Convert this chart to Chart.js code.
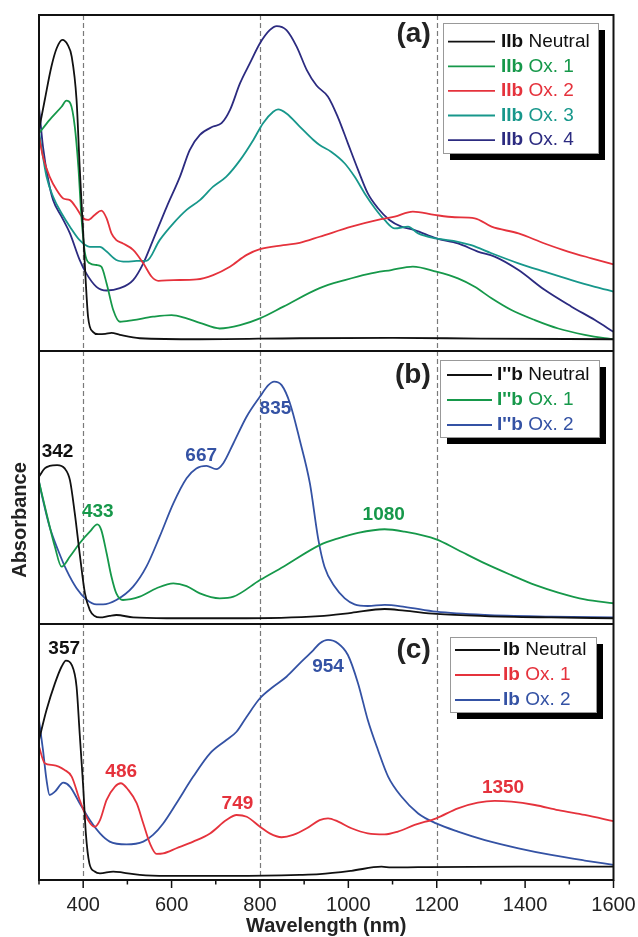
<!DOCTYPE html>
<html>
<head>
<meta charset="utf-8">
<script src="https://cdn.jsdelivr.net/npm/chart.js@4.4.1/dist/chart.umd.min.js"></script>
<style>
    html, body { margin: 0; padding: 0; background: #fff; }
    #wrap { width: 638px; height: 937px; }
</style>
</head>
<body>
<div id="wrap"><canvas id="uvvis" width="638" height="937"></canvas></div>
<script>
// ---- data (wavelength nm, absorbance a.u. per panel) ----

// (a) IIb
const iibNeutral = [[300,0.658],[313,0.747],[328,0.846],[340,0.901],[353,0.926],[365,0.911],[374,0.876],[385,0.747],[392,0.549],[400,0.35],[406,0.201],[411,0.102],[422,0.057],[434,0.050],[450,0.051],[464,0.054],[483,0.048],[528,0.038],[664,0.035],[890,0.038],[1100,0.039],[1300,0.037],[1600,0.035]];
const iibOx1 = [[300,0.648],[324,0.688],[351,0.727],[362,0.745],[371,0.737],[381,0.668],[389,0.549],[396,0.400],[404,0.291],[415,0.261],[430,0.256],[441,0.251],[453,0.201],[468,0.122],[483,0.087],[513,0.092],[558,0.102],[600,0.107],[634,0.097],[664,0.084],[709,0.067],[755,0.077],[800,0.097],[853,0.132],[935,0.187],[992,0.211],[1044,0.229],[1097,0.241],[1146,0.251],[1199,0.236],[1248,0.216],[1286,0.191],[1324,0.157],[1369,0.122],[1422,0.092],[1475,0.067],[1535,0.048],[1580,0.038],[1600,0.035]];
const iibOx2 = [[300,0.638],[309,0.578],[324,0.519],[340,0.479],[355,0.454],[370,0.449],[385,0.425],[400,0.395],[411,0.390],[426,0.405],[441,0.418],[453,0.395],[464,0.350],[475,0.330],[490,0.320],[513,0.301],[536,0.261],[555,0.221],[570,0.209],[604,0.211],[657,0.213],[694,0.226],[732,0.251],[770,0.286],[800,0.303],[853,0.315],[890,0.322],[935,0.340],[1007,0.370],[1067,0.390],[1105,0.400],[1146,0.415],[1195,0.405],[1241,0.398],[1286,0.395],[1324,0.370],[1385,0.350],[1444,0.320],[1497,0.296],[1550,0.276],[1600,0.258]];
const iibOx3 = [[300,0.653],[317,0.519],[332,0.459],[351,0.410],[370,0.370],[392,0.330],[415,0.310],[438,0.310],[453,0.296],[475,0.271],[498,0.266],[521,0.268],[543,0.268],[573,0.330],[604,0.380],[634,0.420],[664,0.449],[694,0.489],[724,0.519],[755,0.568],[785,0.628],[807,0.678],[830,0.712],[841,0.719],[860,0.707],[890,0.668],[921,0.628],[935,0.613],[961,0.593],[992,0.558],[1014,0.519],[1037,0.469],[1060,0.425],[1082,0.390],[1105,0.365],[1135,0.370],[1158,0.350],[1199,0.335],[1248,0.325],[1278,0.315],[1324,0.291],[1385,0.261],[1444,0.236],[1505,0.211],[1558,0.191],[1600,0.177]];
const iibOx4 = [[300,0.727],[309,0.608],[321,0.509],[332,0.449],[351,0.400],[370,0.350],[392,0.271],[407,0.231],[430,0.191],[453,0.180],[483,0.187],[513,0.211],[536,0.261],[558,0.330],[589,0.429],[619,0.519],[641,0.598],[664,0.643],[694,0.668],[713,0.678],[732,0.717],[755,0.797],[777,0.856],[800,0.916],[822,0.955],[838,0.967],[860,0.955],[883,0.906],[906,0.836],[928,0.790],[954,0.757],[976,0.697],[999,0.618],[1022,0.539],[1044,0.469],[1067,0.425],[1093,0.390],[1120,0.370],[1150,0.360],[1199,0.335],[1248,0.320],[1293,0.296],[1331,0.281],[1385,0.241],[1444,0.182],[1505,0.132],[1558,0.092],[1600,0.057]];

// (b) I''b
const ipbNeutral = [[300,0.540],[313,0.570],[324,0.579],[341,0.582],[358,0.570],[370,0.527],[381,0.405],[392,0.259],[404,0.112],[415,0.051],[426,0.029],[438,0.024],[460,0.030],[475,0.033],[513,0.024],[589,0.021],[740,0.021],[935,0.029],[1007,0.041],[1082,0.055],[1127,0.049],[1199,0.037],[1309,0.029],[1459,0.024],[1600,0.021]];
const ipbOx1 = [[300,0.521],[317,0.405],[336,0.283],[351,0.210],[370,0.247],[392,0.296],[415,0.338],[432,0.365],[441,0.344],[453,0.259],[464,0.173],[475,0.112],[490,0.088],[528,0.100],[566,0.131],[604,0.149],[634,0.139],[664,0.112],[709,0.094],[740,0.100],[800,0.161],[853,0.210],[935,0.289],[977,0.314],[1022,0.334],[1082,0.347],[1127,0.338],[1199,0.310],[1248,0.271],[1309,0.222],[1369,0.179],[1422,0.143],[1475,0.115],[1535,0.090],[1600,0.076]];
const ipbOx2 = [[300,0.521],[309,0.454],[324,0.356],[343,0.271],[362,0.198],[385,0.131],[407,0.090],[430,0.072],[445,0.072],[475,0.088],[513,0.137],[543,0.210],[573,0.320],[604,0.442],[634,0.534],[656,0.570],[679,0.579],[701,0.567],[717,0.589],[740,0.662],[770,0.760],[800,0.833],[819,0.875],[832,0.888],[849,0.875],[868,0.808],[890,0.674],[913,0.515],[932,0.310],[946,0.210],[969,0.137],[992,0.094],[1014,0.072],[1044,0.066],[1082,0.070],[1127,0.063],[1199,0.045],[1309,0.033],[1459,0.027],[1600,0.024]];

// (c) Ib
const ibNeutral = [[300,0.547],[317,0.664],[336,0.768],[351,0.833],[361,0.857],[374,0.840],[385,0.755],[392,0.573],[400,0.365],[406,0.182],[414,0.065],[426,0.033],[438,0.026],[468,0.033],[490,0.029],[528,0.020],[589,0.016],[740,0.016],[890,0.020],[935,0.023],[1007,0.036],[1075,0.052],[1097,0.049],[1158,0.050],[1385,0.052],[1600,0.052]];
const ibOx1 = [[300,0.521],[313,0.456],[332,0.449],[358,0.430],[374,0.404],[392,0.313],[411,0.234],[426,0.208],[438,0.234],[453,0.313],[472,0.365],[485,0.378],[502,0.352],[521,0.300],[536,0.221],[551,0.143],[566,0.102],[581,0.104],[611,0.124],[649,0.150],[687,0.182],[724,0.234],[747,0.254],[770,0.247],[800,0.208],[822,0.182],[849,0.167],[875,0.176],[906,0.202],[935,0.234],[954,0.241],[977,0.228],[1007,0.202],[1044,0.182],[1082,0.178],[1112,0.189],[1150,0.215],[1199,0.241],[1248,0.280],[1293,0.302],[1331,0.309],[1369,0.306],[1422,0.293],[1475,0.273],[1535,0.254],[1600,0.230]];
const ibOx2 = [[300,0.625],[309,0.508],[317,0.391],[324,0.332],[336,0.345],[355,0.380],[370,0.365],[392,0.300],[415,0.234],[438,0.182],[460,0.150],[498,0.139],[536,0.150],[558,0.176],[581,0.221],[611,0.300],[649,0.404],[687,0.495],[724,0.547],[747,0.579],[770,0.638],[800,0.710],[830,0.755],[860,0.794],[890,0.846],[921,0.898],[935,0.924],[954,0.938],[977,0.924],[999,0.879],[1022,0.768],[1044,0.625],[1067,0.508],[1090,0.404],[1120,0.326],[1158,0.260],[1199,0.221],[1248,0.189],[1309,0.156],[1385,0.124],[1459,0.098],[1535,0.076],[1600,0.059]];

const stateNamesA = ['Neutral', 'Ox. 1', 'Ox. 2', 'Ox. 3', 'Ox. 4'];
const stateNamesB = ['Neutral', 'Ox. 1', 'Ox. 2'];
const stateNamesC = ['Neutral', 'Ox. 1', 'Ox. 2'];

const peaksB = [342, 433, 667, 835, 1080];
const peaksC = [357, 486, 749, 954, 1350];

const guideLines = [400, 800, 1200];

// ---- styles / layout ----
const FONT = "'Liberation Sans', Arial, sans-serif";
const BLACK = '#111111';
const GREEN = '#16984a';
const RED = '#e5323c';
const TEAL = '#17978b';
const NAVY = '#2c2b80';
const BLUE = '#3452a4';

const colorsA = [BLACK, GREEN, RED, TEAL, NAVY];
const colorsB = [BLACK, GREEN, BLUE];
const colorsC = [BLACK, RED, BLUE];

// label heights (in each panel's own units) and colours of the peak tags
const peakLevelsB = [0.630, 0.410, 0.615, 0.788, 0.399];
const peakColorsB = [BLACK, GREEN, BLUE, BLUE, GREEN];
const peakLevelsC = [0.902, 0.422, 0.297, 0.832, 0.359];
const peakColorsC = [BLACK, RED, RED, BLUE, RED];

// legend boxes: [left, top, width, height], first row offset, row gap, sample line x0/x1, text x
const panels = [
    { axis: 'yA', letter: '(a)', letterY: 34, prefix: 'IIb', names: stateNamesA, colors: colorsA,
      box: [443, 23, 155, 130], firstRow: 18.7, rowGap: 24.6, line: [5, 52], textX: 58 },
    { axis: 'yB', letter: '(b)', letterY: 375, prefix: "I''b", names: stateNamesB, colors: colorsB,
      box: [440, 360, 159, 77], firstRow: 15, rowGap: 25, line: [7, 52], textX: 57 },
    { axis: 'yC', letter: '(c)', letterY: 650, prefix: 'Ib', names: stateNamesC, colors: colorsC,
      box: [450, 637, 146, 75], firstRow: 13, rowGap: 25, line: [5, 50], textX: 53 }
];

function series(label, pts, axis, color) {
    return {
        label: label,
        data: pts.map(([x, y]) => ({ x: x, y: y })),
        yAxisID: axis,
        borderColor: color,
        borderWidth: 1.8,
        pointRadius: 0,
        fill: false,
        cubicInterpolationMode: 'monotone'
    };
}

const datasets = [
    series('IIb Neutral', iibNeutral, 'yA', BLACK),
    series('IIb Ox. 1', iibOx1, 'yA', GREEN),
    series('IIb Ox. 2', iibOx2, 'yA', RED),
    series('IIb Ox. 3', iibOx3, 'yA', TEAL),
    series('IIb Ox. 4', iibOx4, 'yA', NAVY),
    series("I''b Neutral", ipbNeutral, 'yB', BLACK),
    series("I''b Ox. 1", ipbOx1, 'yB', GREEN),
    series("I''b Ox. 2", ipbOx2, 'yB', BLUE),
    series('Ib Neutral', ibNeutral, 'yC', BLACK),
    series('Ib Ox. 1', ibOx1, 'yC', RED),
    series('Ib Ox. 2', ibOx2, 'yC', BLUE)
];

// draw legend box with drop shadow, bold prefix + normal name
function drawLegend(ctx, p) {
    const [bx, by, bw, bh] = p.box;
    ctx.fillStyle = '#000';
    ctx.fillRect(bx + 7, by + 7, bw, bh);
    ctx.fillStyle = '#fff';
    ctx.fillRect(bx, by, bw, bh);
    ctx.strokeStyle = '#999';
    ctx.lineWidth = 1;
    ctx.setLineDash([]);
    ctx.strokeRect(bx + 0.5, by + 0.5, bw, bh);

    ctx.textBaseline = 'middle';
    ctx.textAlign = 'left';
    p.names.forEach((name, i) => {
        const y = by + p.firstRow + i * p.rowGap;
        ctx.strokeStyle = p.colors[i];
        ctx.lineWidth = 1.8;
        ctx.beginPath();
        ctx.moveTo(bx + p.line[0], y);
        ctx.lineTo(bx + p.line[1], y);
        ctx.stroke();

        ctx.fillStyle = p.colors[i];
        ctx.font = 'bold 19px ' + FONT;
        const tx = bx + p.textX;
        ctx.fillText(p.prefix, tx, y);
        const w = ctx.measureText(p.prefix).width;
        ctx.font = '19px ' + FONT;
        ctx.fillText(' ' + name, tx + w, y);
    });
}

function drawPeaks(ctx, x, y, peaks, levels, colors) {
    ctx.font = 'bold 19px ' + FONT;
    ctx.textAlign = 'center';
    ctx.textBaseline = 'middle';
    peaks.forEach((nm, i) => {
        ctx.fillStyle = colors[i];
        ctx.fillText(String(nm), x.getPixelForValue(nm), y.getPixelForValue(levels[i]));
    });
}

const decorPlugin = {
    id: 'decor',
    beforeDatasetsDraw(chart) {
        const { ctx, chartArea: a, scales } = chart;
        ctx.save();
        ctx.strokeStyle = '#7a7a7a';
        ctx.lineWidth = 1.2;
        ctx.setLineDash([5, 3]);
        guideLines.forEach(nm => {
            const px = Math.round(scales.x.getPixelForValue(nm)) + 0.5;
            ctx.beginPath();
            ctx.moveTo(px, a.top);
            ctx.lineTo(px, a.bottom);
            ctx.stroke();
        });
        ctx.restore();
    },
    afterDatasetsDraw(chart) {
        const { ctx, chartArea: a, scales } = chart;
        const x = scales.x;
        ctx.save();

        // frame and panel separators
        ctx.setLineDash([]);
        ctx.strokeStyle = BLACK;
        ctx.lineWidth = 2;
        ctx.strokeRect(a.left, a.top, a.right - a.left, a.bottom - a.top);
        ['yB', 'yC'].forEach(id => {
            ctx.beginPath();
            ctx.moveTo(a.left, scales[id].top);
            ctx.lineTo(a.right, scales[id].top);
            ctx.stroke();
        });

        // x tick marks, outward, major every 200
        ctx.lineWidth = 1.5;
        x.ticks.forEach(t => {
            const px = x.getPixelForValue(t.value);
            const len = t.value % 200 === 0 ? 8 : 4.5;
            ctx.beginPath();
            ctx.moveTo(px, a.bottom);
            ctx.lineTo(px, a.bottom + len);
            ctx.stroke();
        });

        // peak tags
        drawPeaks(ctx, x, scales.yB, peaksB, peakLevelsB, peakColorsB);
        drawPeaks(ctx, x, scales.yC, peaksC, peakLevelsC, peakColorsC);

        // panel letters + legends
        panels.forEach(p => {
            ctx.font = 'bold 28px ' + FONT;
            ctx.fillStyle = '#222';
            ctx.textAlign = 'right';
            ctx.textBaseline = 'middle';
            ctx.fillText(p.letter, x.getPixelForValue(1200) - 6, p.letterY);
            drawLegend(ctx, p);
        });

        // y axis title
        ctx.translate(20, 520);
        ctx.rotate(-Math.PI / 2);
        ctx.font = 'bold 20px ' + FONT;
        ctx.fillStyle = '#222';
        ctx.textAlign = 'center';
        ctx.textBaseline = 'middle';
        ctx.fillText('Absorbance', 0, 0);

        ctx.restore();
    }
};

function panelAxis(weight, stackWeight) {
    return {
        type: 'linear',
        position: 'left',
        min: 0,
        max: 1,
        display: false,
        stack: 'panels',
        stackWeight: stackWeight,
        weight: weight
    };
}

new Chart(document.getElementById('uvvis'), {
    type: 'line',
    data: { datasets: datasets },
    options: {
        responsive: false,
        animation: false,
        layout: { padding: { left: 39, right: 24.5, top: 15, bottom: 0 } },
        plugins: {
            legend: { display: false },
            tooltip: { enabled: false }
        },
        scales: {
            x: {
                type: 'linear',
                min: 300,
                max: 1600,
                grid: { display: false, drawTicks: false },
                border: { display: false },
                ticks: {
                    stepSize: 100,
                    autoSkip: false,
                    maxRotation: 0,
                    padding: 13,
                    color: '#222',
                    font: { family: FONT, size: 20 },
                    callback: v => (v % 200 === 0 && v >= 400) ? String(v) : ''
                },
                title: {
                    display: true,
                    text: 'Wavelength (nm)',
                    color: '#222',
                    padding: 0,
                    font: { family: FONT, size: 20, weight: 'bold', lineHeight: 1.1 }
                },
                afterFit: s => {
                    s.height = 57;
                    s.paddingLeft = 0;
                    s.paddingRight = 0;
                }
            },
            yA: panelAxis(3, 336),
            yB: panelAxis(2, 273),
            yC: panelAxis(1, 256)
        }
    },
    plugins: [decorPlugin]
});
</script>
</body>
</html>
